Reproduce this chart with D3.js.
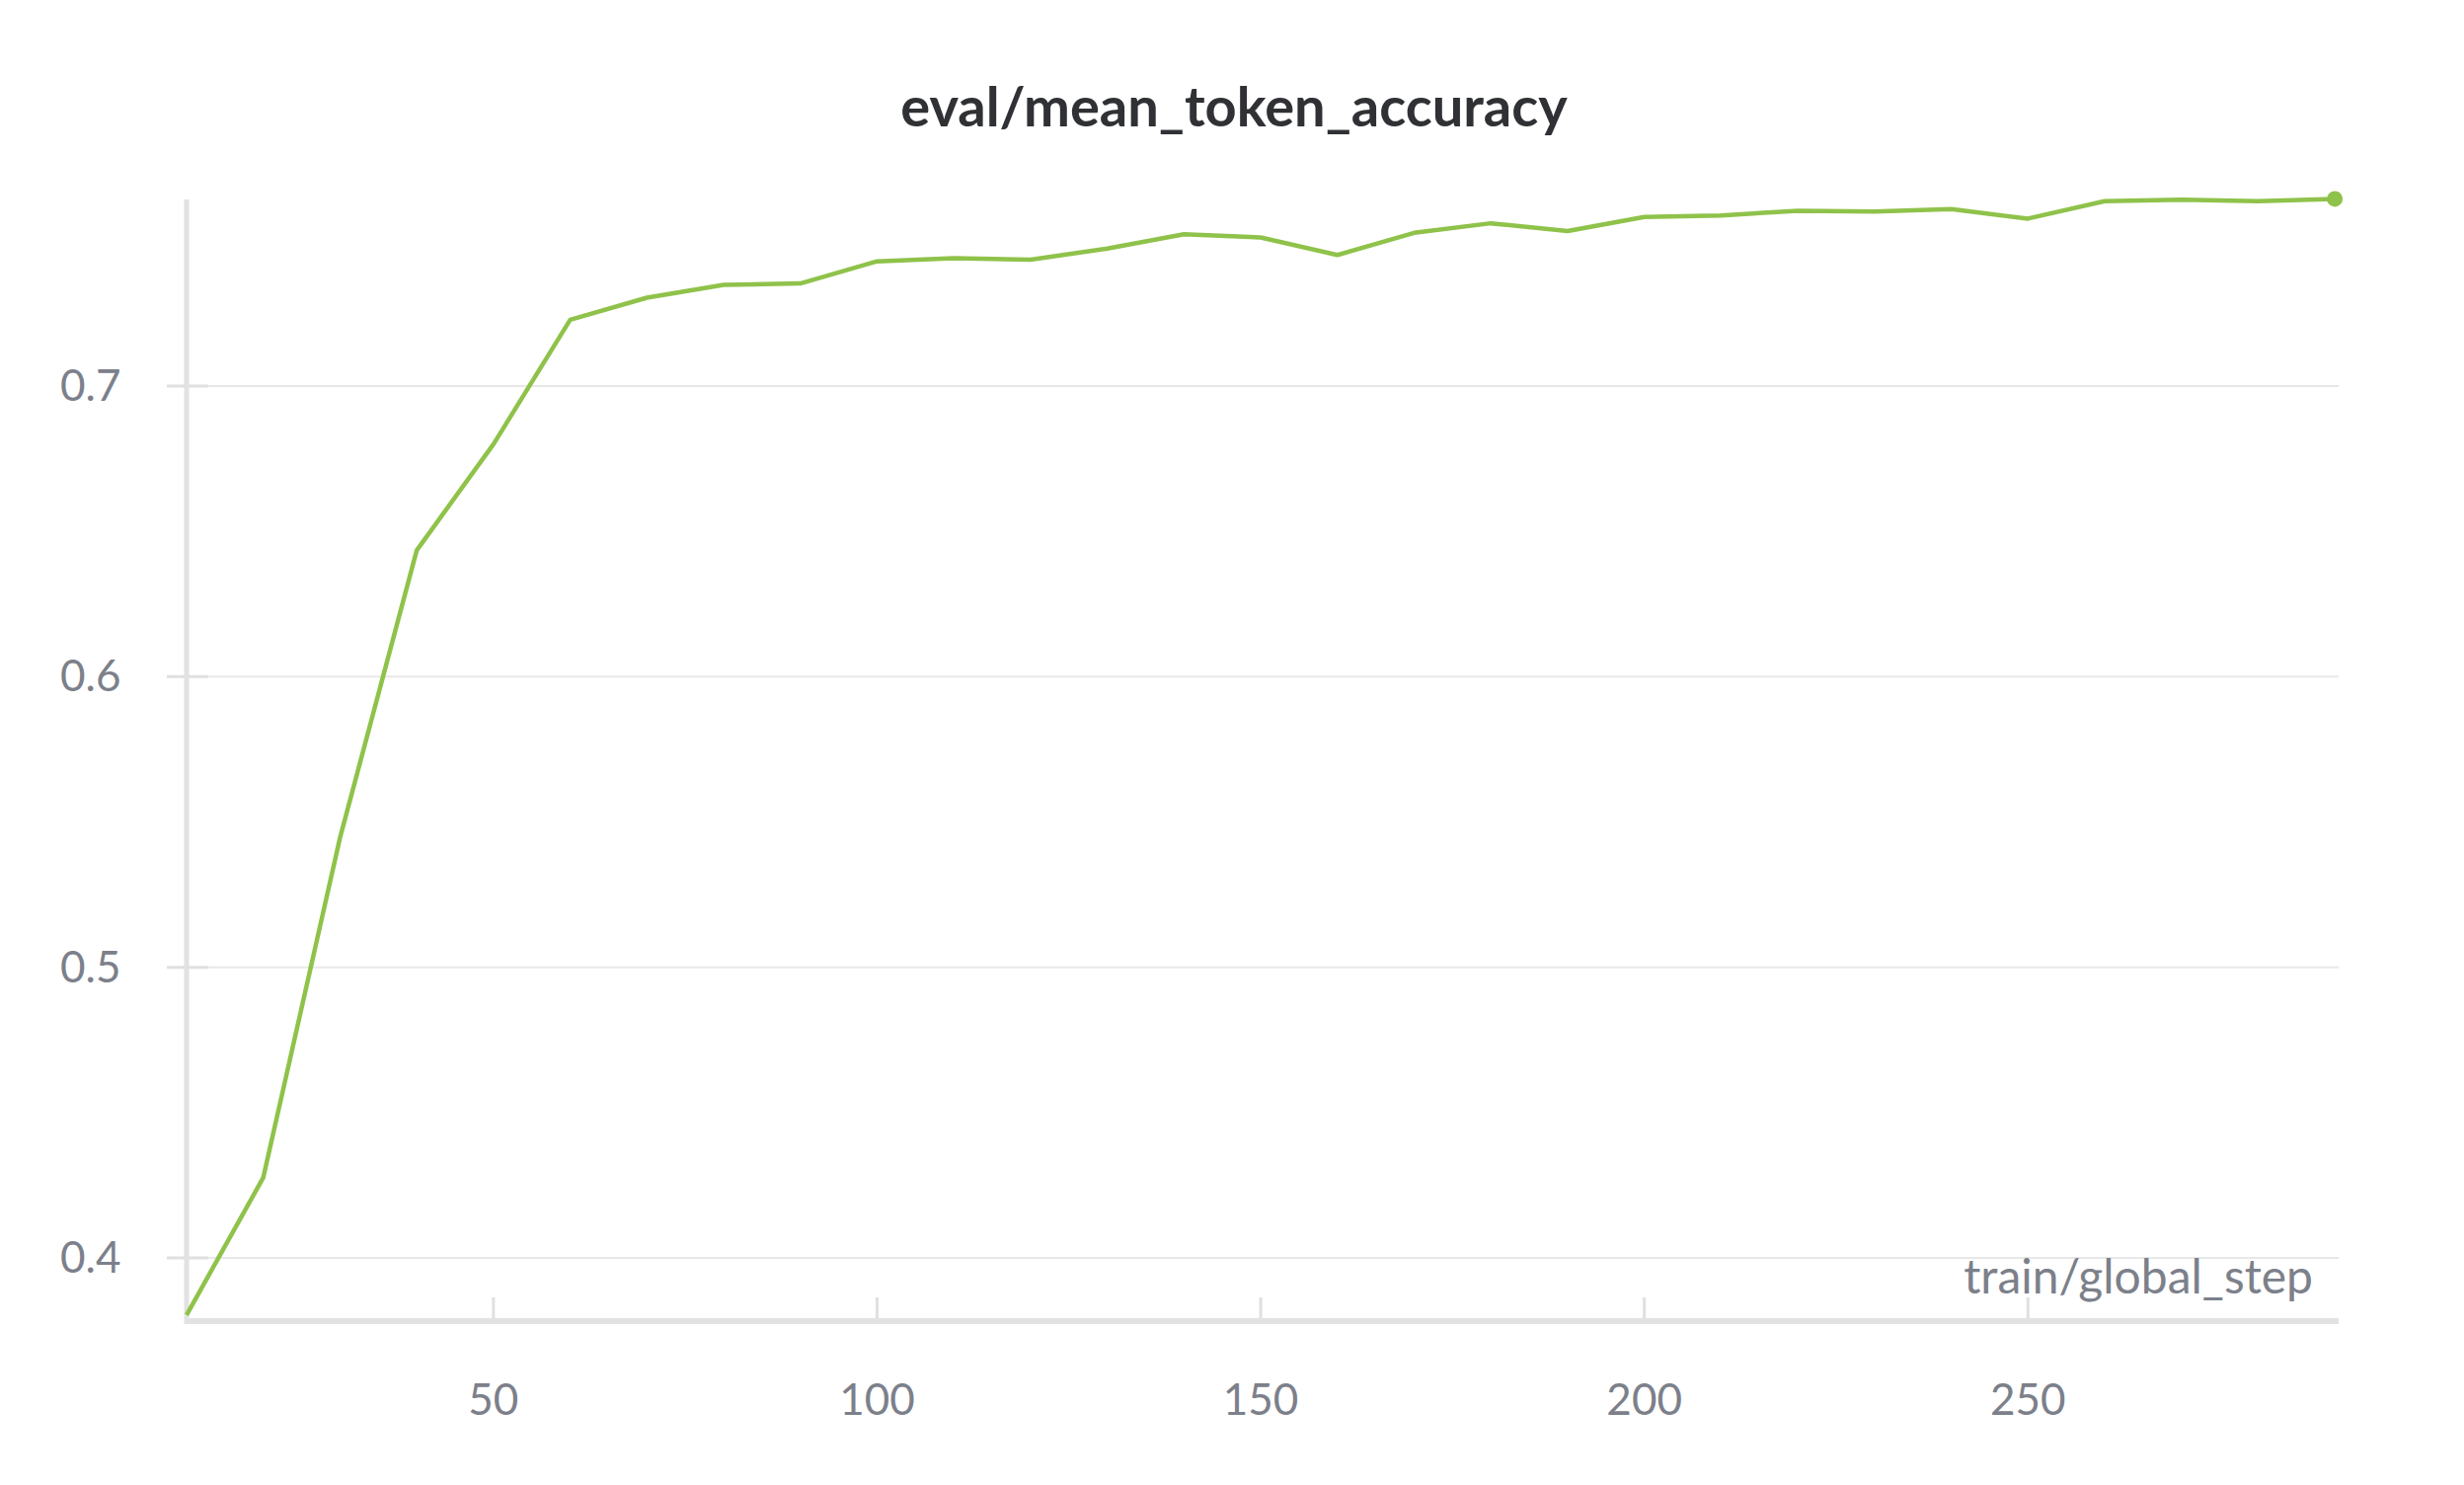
<!DOCTYPE html>
<html><head><meta charset="utf-8">
<script src="https://cdn.jsdelivr.net/npm/d3@7"></script>
<style>body{margin:0;background:#fff}svg{display:block}</style>
</head><body>
<svg id="chart" width="2496" height="1504"></svg>
<script>
var steps = [10,20,30,40,50,60,70,80,90,100,110,120,130,140,150,160,170,180,190,200,210,220,230,240,250,260,270,280,290];
var accuracy = [0.3804,0.4277,0.5446,0.6435,0.680,0.7228,0.7304,0.7348,0.7353,0.7429,0.744,0.7435,0.7473,0.7522,0.7511,0.7451,0.7527,0.756,0.7533,0.7582,0.7587,0.7603,0.760,0.7609,0.7576,0.7636,0.7641,0.7636,0.7644];
var xTicks = [50,100,150,200,250];
var yTicks = [0.4,0.5,0.6,0.7];

var svg = d3.select("#chart");
var font = "Lato, 'Open Sans', sans-serif";
var plotLeft = 189, plotRight = 2369, plotTop = 202, plotBottom = 1338;

var x = d3.scaleLinear().domain([10, 290.5]).range([plotLeft, plotRight]);
var y = d3.scaleLinear().domain([0.3783, 0.7642]).range([plotBottom, plotTop]);

// title
svg.append("text").attr("x", 1250).attr("y", 128).attr("text-anchor", "middle")
  .attr("font-family", font).attr("font-size", 56).attr("font-weight", 700)
  .attr("fill", "#2f3135").text("eval/mean_token_accuracy");

// grid lines
svg.selectAll(".grid").data(yTicks).enter().append("line")
  .attr("x1", plotLeft).attr("x2", plotRight)
  .attr("y1", d => y(d)).attr("y2", d => y(d))
  .attr("stroke", "#e8e8e8").attr("stroke-width", 2);

// y ticks + labels
svg.selectAll(".ytick").data(yTicks).enter().append("line")
  .attr("x1", plotLeft - 20).attr("x2", plotLeft + 22)
  .attr("y1", d => y(d)).attr("y2", d => y(d))
  .attr("stroke", "#e0e0e0").attr("stroke-width", 3);
svg.selectAll(".ylab").data(yTicks).enter().append("text")
  .attr("x", 61).attr("y", d => y(d) + 15)
  .attr("font-family", font).attr("font-size", 44).attr("fill", "#7c808a")
  .text(d => d3.format(".1f")(d));

// x ticks + labels
svg.selectAll(".xtick").data(xTicks).enter().append("line")
  .attr("x1", d => x(d)).attr("x2", d => x(d))
  .attr("y1", plotBottom - 24).attr("y2", plotBottom)
  .attr("stroke", "#e0e0e0").attr("stroke-width", 3);
svg.selectAll(".xlab").data(xTicks).enter().append("text")
  .attr("x", d => x(d)).attr("y", 1433).attr("text-anchor", "middle")
  .attr("font-family", font).attr("font-size", 44).attr("fill", "#7c808a")
  .text(d => d);

// axes
svg.append("line").attr("x1", plotLeft).attr("x2", plotLeft).attr("y1", plotTop).attr("y2", plotBottom + 3)
  .attr("stroke", "#e2e2e2").attr("stroke-width", 5);
svg.append("line").attr("x1", plotLeft).attr("x2", plotRight).attr("y1", plotBottom).attr("y2", plotBottom)
  .attr("stroke", "#e2e2e2").attr("stroke-width", 6);

svg.append("text").attr("x", 2343).attr("y", 1310).attr("text-anchor", "end")
  .attr("font-family", font).attr("font-size", 48).attr("fill", "#7c808a")
  .text("train/global_step");

// line
var line = d3.line().x((d, i) => x(steps[i])).y(d => y(d));
svg.append("path").datum(accuracy).attr("d", line)
  .attr("fill", "none").attr("stroke", "#8fc24a").attr("stroke-width", 4.5)
  .attr("stroke-linejoin", "round");
svg.append("circle").attr("cx", x(steps[steps.length - 1])).attr("cy", y(accuracy[accuracy.length - 1]))
  .attr("r", 8).attr("fill", "#8fc24a");
</script>
</body></html>
